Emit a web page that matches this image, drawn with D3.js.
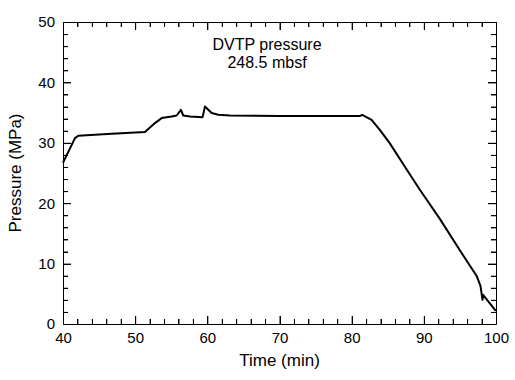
<!DOCTYPE html>
<html>
<head>
<meta charset="utf-8">
<script src="https://cdn.jsdelivr.net/npm/d3@7"></script>
<style>
  body { margin: 0; background: #fff; }
  svg { display: block; font-family: "Liberation Sans", Arial, Helvetica, sans-serif; }
</style>
</head>
<body>
<div id="chart"></div>
<script>
// DVTP pressure record
const timeMin = [40.0, 41.66, 42.12, 46.74, 51.36, 52.74, 53.67, 55.06, 55.75, 56.34, 56.66, 57.59,
  59.35, 59.67, 60.6, 61.51, 63.13, 70.0, 75.0, 81.1, 81.46, 82.76, 83.9, 85.29, 87.4,
  89.45, 92.22, 94.99, 97.3, 97.85, 98.13, 98.21, 99.97];
const pressureMPa = [26.7, 30.78, 31.16, 31.49, 31.77, 33.26, 34.09, 34.35, 34.52, 35.46, 34.52, 34.35,
  34.25, 36.0, 34.92, 34.64, 34.52, 34.44, 34.42, 34.42, 34.64, 33.81, 32.15, 29.9, 26.0,
  22.22, 17.4, 12.2, 8.0, 6.3, 4.0, 4.83, 2.19];
const xMajor = [40, 50, 60, 70, 80, 90, 100];
const yMajor = [0, 10, 20, 30, 40, 50];
const titleLines = ["DVTP pressure", "248.5 mbsf"];

const width = 515;
const height = 380;
const margin = { top: 22, right: 19, bottom: 56, left: 63 };

const svg = d3.select('#chart')
  .append('svg')
  .attr('width', width)
  .attr('height', height);

const x = d3.scaleLinear()
  .domain([40, 100])
  .range([margin.left, width - margin.right]);

const y = d3.scaleLinear()
  .domain([0, 50])
  .range([height - margin.bottom, margin.top]);

const xMinor = d3.range(42, 100, 2).filter(v => v % 10 !== 0);
const yMinor = d3.range(2, 50, 2).filter(v => v % 10 !== 0);

// one axis = major ticks (with or without labels) + minor ticks, all pointing inward
function addAxis(axisFn, scale, majors, minors, pos, labels) {
  const major = axisFn(scale).tickValues(majors).tickSize(-8).tickSizeOuter(0).tickPadding(8);
  if (!labels) major.tickFormat(() => '');
  const g = svg.append('g').attr('transform', pos).call(major);
  const minor = axisFn(scale).tickValues(minors).tickSize(-5).tickSizeOuter(0).tickFormat(() => '');
  const gm = svg.append('g').attr('transform', pos).call(minor);
  gm.select('path.domain').remove();
  [g, gm].forEach(s => {
    s.selectAll('path.domain').attr('stroke', '#000');
    s.selectAll('.tick line').attr('stroke', '#000');
    s.selectAll('.tick text').attr('fill', '#000').attr('font-size', '15px');
    s.attr('font-family', null);
  });
  return g;
}

addAxis(d3.axisBottom, x, xMajor, xMinor, `translate(0,${y(0)})`, true);
addAxis(d3.axisTop, x, xMajor, xMinor, `translate(0,${y(50)})`, false);
addAxis(d3.axisLeft, y, yMajor, yMinor, `translate(${x(40)},0)`, true);
addAxis(d3.axisRight, y, yMajor, yMinor, `translate(${x(100)},0)`, false);

// inward tick marks again as thin filled rects placed from the scales
const x0 = x(40), x1 = x(100), y0 = y(0), y1 = y(50);
const xTicks = xMajor.concat(xMinor).map(v => ({ v, len: xMajor.includes(v) ? 8 : 5 }));
const yTicks = yMajor.concat(yMinor).map(v => ({ v, len: yMajor.includes(v) ? 8 : 5 }));
const marks = svg.append('g').attr('fill', '#000');
marks.selectAll('rect.xb').data(xTicks).join('rect').attr('class', 'xb')
  .attr('x', d => Math.round(x(d.v))).attr('y', d => y0 - d.len).attr('width', 1).attr('height', d => d.len);
marks.selectAll('rect.xt').data(xTicks).join('rect').attr('class', 'xt')
  .attr('x', d => Math.round(x(d.v))).attr('y', y1).attr('width', 1).attr('height', d => d.len);
marks.selectAll('rect.yl').data(yTicks).join('rect').attr('class', 'yl')
  .attr('x', x0).attr('y', d => Math.round(y(d.v))).attr('width', d => d.len).attr('height', 1);
marks.selectAll('rect.yr').data(yTicks).join('rect').attr('class', 'yr')
  .attr('x', d => x1 - d.len).attr('y', d => Math.round(y(d.v))).attr('width', d => d.len).attr('height', 1);

// pressure trace
const pressureLine = d3.line()
  .x((d, i) => x(timeMin[i]))
  .y(d => y(d));

svg.append('path')
  .datum(pressureMPa)
  .attr('fill', 'none')
  .attr('stroke', '#000')
  .attr('stroke-width', 2)
  .attr('stroke-linejoin', 'round')
  .attr('d', pressureLine);

// title inside the plot, two lines
svg.selectAll('text.title')
  .data(titleLines)
  .join('text')
    .attr('class', 'title')
    .attr('x', 267)
    .attr('y', (d, i) => 50 + i * 18)
    .attr('text-anchor', 'middle')
    .attr('font-size', '16px')
    .text(d => d);

// axis titles
svg.append('text')
  .attr('x', (x(40) + x(100)) / 2)
  .attr('y', 366)
  .attr('text-anchor', 'middle')
  .attr('font-size', '17px')
  .text('Time (min)');

svg.append('text')
  .attr('transform', `translate(21,${(y(0) + y(50)) / 2}) rotate(-90)`)
  .attr('text-anchor', 'middle')
  .attr('font-size', '17px')
  .text('Pressure (MPa)');
</script>
</body>
</html>
